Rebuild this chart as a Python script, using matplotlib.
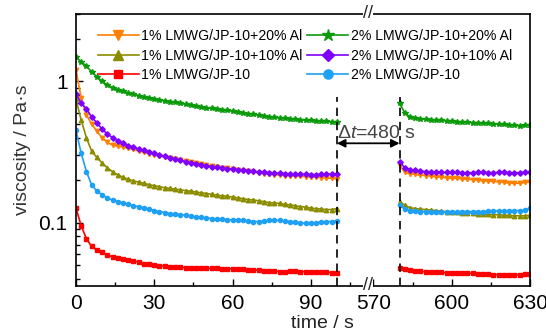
import numpy as np
import matplotlib
matplotlib.use('Agg')
import matplotlib.pyplot as plt
from matplotlib.ticker import FixedLocator, NullFormatter, LogLocator

plt.rcParams['font.family'] = ['Liberation Sans', 'DejaVu Sans']
plt.rcParams['mathtext.fontset'] = 'custom'
plt.rcParams['mathtext.it'] = 'Liberation Sans:italic'
plt.rcParams['mathtext.rm'] = 'Liberation Sans'

# time axis: first run 0-100 s, second run 580-630 s (every 2 s)
t_first = np.arange(0, 101, 2)
t_second = np.arange(580, 631, 2)

# 1% LMWG/JP-10 + 20% Al
v1_20_a = [1.21, 0.76, 0.58, 0.50, 0.445, 0.40, 0.37, 0.355, 0.348, 0.343, 0.337, 0.33, 0.322,
           0.315, 0.309, 0.303, 0.297, 0.291, 0.286, 0.281, 0.277, 0.272, 0.268, 0.263, 0.259,
           0.256, 0.252, 0.249, 0.246, 0.243, 0.24, 0.237, 0.234, 0.231, 0.228, 0.226, 0.223,
           0.221, 0.219, 0.217, 0.216, 0.215, 0.214, 0.213, 0.212, 0.211, 0.21, 0.209, 0.208,
           0.206, 0.205]
v1_20_b = [0.255, 0.228, 0.222, 0.22, 0.218, 0.216, 0.214, 0.212, 0.21, 0.208, 0.207, 0.206,
           0.205, 0.203, 0.202, 0.20, 0.198, 0.197, 0.196, 0.195, 0.193, 0.191, 0.19, 0.191,
           0.193, 0.194]

# 1% LMWG/JP-10 + 10% Al
v1_10_a = [0.75, 0.53, 0.40, 0.32, 0.29, 0.265, 0.245, 0.23, 0.218, 0.21, 0.203, 0.198, 0.194,
           0.19, 0.186, 0.183, 0.18, 0.177, 0.175, 0.173, 0.171, 0.169, 0.167, 0.165, 0.163,
           0.161, 0.159, 0.157, 0.155, 0.154, 0.152, 0.15, 0.148, 0.146, 0.145, 0.143, 0.141,
           0.139, 0.138, 0.137, 0.135, 0.134, 0.132, 0.13, 0.129, 0.127, 0.126, 0.125, 0.124,
           0.124, 0.126]
v1_10_b = [0.141, 0.133, 0.128, 0.126, 0.125, 0.124, 0.123, 0.122, 0.121, 0.12, 0.12, 0.119,
           0.118, 0.117, 0.117, 0.116, 0.115, 0.115, 0.114, 0.114, 0.113, 0.113, 0.112, 0.112,
           0.112, 0.113]

# 1% LMWG/JP-10
v1_a = [0.127, 0.095, 0.077, 0.068, 0.064, 0.062, 0.059, 0.0575, 0.0565, 0.0555, 0.0547, 0.054,
        0.0525, 0.0515, 0.051, 0.0503, 0.0498, 0.0494, 0.049, 0.0487, 0.0484, 0.0482, 0.048,
        0.0478, 0.0477, 0.0476, 0.0475, 0.0475, 0.0474, 0.0474, 0.0473, 0.0471, 0.0469, 0.0467,
        0.0464, 0.0461, 0.0458, 0.0455, 0.0453, 0.0452, 0.0452, 0.0453, 0.0453, 0.0452, 0.0451,
        0.045, 0.0448, 0.0446, 0.0445, 0.0444, 0.0443]
v1_b = [0.0477, 0.0468, 0.0462, 0.0458, 0.0453, 0.045, 0.0448, 0.0446, 0.0445, 0.0443, 0.0442,
        0.0441, 0.044, 0.0439, 0.0438, 0.0436, 0.0434, 0.0432, 0.043, 0.0429, 0.0428, 0.0428,
        0.0429, 0.043, 0.0432, 0.0436]

# 2% LMWG/JP-10 + 20% Al
v2_20_a = [1.48, 1.38, 1.28, 1.17, 1.08, 1.00, 0.945, 0.905, 0.875, 0.85, 0.83, 0.81, 0.795,
           0.78, 0.765, 0.75, 0.74, 0.73, 0.72, 0.71, 0.70, 0.69, 0.68, 0.67, 0.66, 0.652,
           0.645, 0.64, 0.632, 0.625, 0.617, 0.61, 0.60, 0.592, 0.585, 0.578, 0.57, 0.563,
           0.558, 0.553, 0.55, 0.545, 0.541, 0.537, 0.534, 0.53, 0.527, 0.524, 0.521, 0.518,
           0.516]
v2_20_b = [0.70, 0.60, 0.56, 0.55, 0.545, 0.54, 0.536, 0.532, 0.53, 0.527, 0.524, 0.52, 0.517,
           0.514, 0.512, 0.51, 0.507, 0.504, 0.502, 0.50, 0.497, 0.494, 0.49, 0.487, 0.488,
           0.495]

# 2% LMWG/JP-10 + 10% Al
v2_10_a = [0.82, 0.70, 0.64, 0.56, 0.51, 0.46, 0.425, 0.40, 0.38, 0.365, 0.352, 0.342, 0.333,
           0.325, 0.317, 0.31, 0.302, 0.295, 0.289, 0.283, 0.277, 0.271, 0.266, 0.262, 0.258,
           0.254, 0.25, 0.247, 0.244, 0.241, 0.239, 0.237, 0.235, 0.233, 0.231, 0.229, 0.228,
           0.226, 0.225, 0.224, 0.223, 0.222, 0.222, 0.221, 0.22, 0.219, 0.219, 0.22, 0.22,
           0.221, 0.222]
v2_10_b = [0.27, 0.245, 0.238, 0.235, 0.232, 0.23, 0.229, 0.228, 0.228, 0.227, 0.227, 0.227,
           0.226, 0.226, 0.226, 0.227, 0.227, 0.226, 0.226, 0.227, 0.227, 0.226, 0.226, 0.226,
           0.227, 0.227]

# 2% LMWG/JP-10
v2_a = [0.45, 0.31, 0.23, 0.185, 0.168, 0.158, 0.15, 0.145, 0.141, 0.138, 0.135, 0.132, 0.13,
        0.127, 0.125, 0.122, 0.12, 0.118, 0.116, 0.115, 0.114, 0.113, 0.111, 0.11, 0.109,
        0.108, 0.107, 0.106, 0.106, 0.105, 0.105, 0.104, 0.104, 0.103, 0.102, 0.102, 0.103,
        0.104, 0.104, 0.104, 0.103, 0.102, 0.101, 0.1, 0.099, 0.099, 0.1, 0.101, 0.102, 0.102,
        0.103]
v2_b = [0.133, 0.125, 0.122, 0.121, 0.12, 0.12, 0.12, 0.119, 0.119, 0.119, 0.119, 0.12, 0.12,
        0.12, 0.12, 0.12, 0.12, 0.121, 0.121, 0.121, 0.121, 0.122, 0.122, 0.122, 0.123, 0.127]

series = [
    ('1% LMWG/JP-10+20% Al', v1_20_a, v1_20_b, '#FF8000', 'v'),
    ('1% LMWG/JP-10+10% Al', v1_10_a, v1_10_b, '#8C8C00', '^'),
    ('1% LMWG/JP-10', v1_a, v1_b, '#FF0000', 's'),
    ('2% LMWG/JP-10+20% Al', v2_20_a, v2_20_b, '#0A9A0A', '*'),
    ('2% LMWG/JP-10+10% Al', v2_10_a, v2_10_b, '#8000FF', 'D'),
    ('2% LMWG/JP-10', v2_a, v2_b, '#1EA0F5', 'o'),
]

gap_shift = 456  # axis is cut between ~112 s and ~568 s


def xpos(t):
    t = np.asarray(t, dtype=float)
    return np.where(t > 300, t - gap_shift, t)


fig = plt.figure(figsize=(5.46, 3.31), dpi=100)
ax = fig.add_axes([76 / 546, 45 / 331, 454 / 546, 272 / 331])

msize = {'v': 3.2, '^': 3.2, 's': 2.8, '*': 4.0, 'D': 2.8, 'o': 3.0}
for label, ya, yb, col, mk in series:
    ax.plot(xpos(t_first), ya, color=col, marker=mk, ms=msize[mk], lw=1.2, label=label)
    ax.plot(xpos(t_second), yb, color=col, marker=mk, ms=msize[mk], lw=1.2)

ax.set_yscale('log')
ax.set_ylim(0.0357, 3.0)
ax.set_xlim(0, 174)

ax.xaxis.set_major_locator(FixedLocator(xpos([0, 30, 60, 90, 570, 600, 630])))
ax.set_xticklabels(['0', '30', '60', '90', '570', '600', '630'])
ax.xaxis.set_minor_locator(FixedLocator(xpos([15, 45, 75, 105, 585, 615])))
ax.yaxis.set_major_locator(FixedLocator([0.1, 1]))
ax.set_yticklabels(['0.1', '1'])
ax.yaxis.set_minor_locator(LogLocator(base=10, subs=np.arange(2, 10), numticks=20))
ax.yaxis.set_minor_formatter(NullFormatter())

ax.tick_params(which='both', direction='in', top=False, right=False, labelsize=15, width=1.0)
ax.tick_params(which='major', length=5, pad=6)
ax.tick_params(which='minor', length=3)
for s in ax.spines.values():
    s.set_linewidth(1.2)

ax.set_ylabel('viscosity / Pa·s', fontsize=14, color='#333333')
ax.yaxis.set_label_coords(-0.10, 0.5)
ax.set_xlabel('time / s', fontsize=14, color='#222222')
ax.xaxis.set_label_coords(0.542, -0.105)

# dashed markers at the end of the first run and the start of the second
for tx in (100, 580):
    ax.plot([xpos(tx)] * 2, [0.0357, 0.77], color='black', lw=1.2, ls=(0, (5, 3.5)))

ax.annotate('', xy=(xpos(580), 0.365), xytext=(xpos(100), 0.365),
            arrowprops=dict(arrowstyle='<|-|>', color='black', lw=1.3,
                            mutation_scale=12, shrinkA=0, shrinkB=0))
ax.text(xpos(100) + 0.2, 0.43, r'$\Delta$$\it{t}$=480 s', fontsize=14, color='#444444',
        ha='left', va='center')

# axis break symbols on top and bottom spines
brk = ax.get_xaxis_transform()
for yb_ in (0.0, 1.0):
    ax.text(112, yb_, '//', transform=brk, ha='center', va='center', fontsize=13,
            color='#222222', clip_on=False,
            bbox=dict(facecolor='white', edgecolor='none', pad=0.0))

ax.legend(loc='upper left', bbox_to_anchor=(0.035, 0.965), ncol=2, frameon=False,
          fontsize=10.2, handlelength=2.9, handletextpad=0.2, columnspacing=0.3,
          labelspacing=0.38, borderaxespad=0, markerscale=2.2)

fig.savefig('out.png', dpi=100)
